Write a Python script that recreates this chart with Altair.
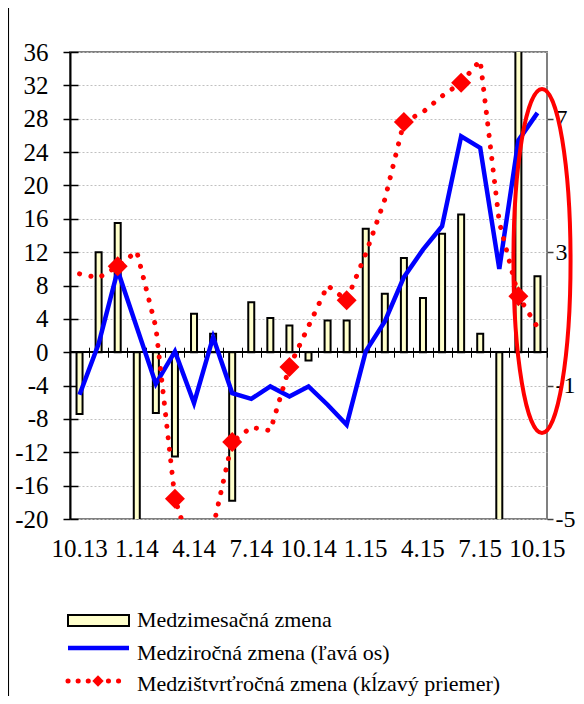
import altair as alt
import pandas as pd

months = ['10.13', '11.13', '12.13', '1.14', '2.14', '3.14', '4.14', '5.14', '6.14',
          '7.14', '8.14', '9.14', '10.14', '11.14', '12.14', '1.15', '2.15', '3.15',
          '4.15', '5.15', '6.15', '7.15', '8.15', '9.15', '10.15']
# Medzimesačná zmena (left axis)
mom = [-7.4, 12.0, 15.5, -25.0, -7.3, -12.5, 4.6, 2.2, -17.8, 6.0, 4.1, 3.2,
       -1.0, 3.8, 3.8, 14.8, 7.0, 11.3, 6.5, 14.2, 16.5, 2.2, -24.0, 40.0, 9.1]
# Medziročná zmena (left axis)
yoy = [-5.1, 1.0, 9.8, 3.0, -3.8, 0.1, -6.1, 1.8, -4.9, -5.6, -4.1, -5.3,
       -4.1, -6.3, -8.7, 0.1, 3.7, 9.0, 12.3, 15.1, 25.9, 24.5, 10.0, 25.4, 28.7]
# Medzištvrťročná zmena, kĺzavý priemer (right axis)
qoq = [2.35, 2.23, 2.58, 3.02, 0.75, -4.39, -6.2, -5.25, -2.69, -2.25, -2.35, -0.44,
       0.78, 2.0, 1.56, 2.95, 4.58, 6.9, 7.2, 7.68, 8.08, 8.75, 3.9, 1.68, 0.75]
label_months = ['10.13', '1.14', '4.14', '7.14', '10.14', '1.15', '4.15', '7.15', '10.15']
left_ticks = list(range(-20, 37, 4))
right_ticks = [-5, -1, 3, 7]
legend_labels = ['Medzimesačná zmena', 'Medziročná zmena (ľavá os)',
                 'Medzištvrťročná zmena (kĺzavý priemer)']

df = pd.DataFrame({'month': months, 'mom': mom, 'yoy': yoy, 'qoq': qoq})
df_q = df.iloc[2::3]
one = pd.DataFrame({'k': [0]})

W, H = 477, 467
PAD = {'left': 62, 'top': 44, 'right': 29, 'bottom': 177}
FONT = 'Liberation Serif'
HYPHEN = "replace(datum.label, '\u2212', '-')"
left_dom = [-20, 36]
right_dom = [-5, 9]
zero_px = H * left_dom[1] / (left_dom[1] - left_dom[0])

xscale = alt.Scale(domain=months, paddingInner=0, paddingOuter=0)
lscale = alt.Scale(domain=left_dom, nice=False, zero=False)
rscale = alt.Scale(domain=right_dom, nice=False, zero=False)

base = alt.Chart(df)
single = alt.Chart(one)

bars = base.mark_bar(size=6, fill='#FFFFCC', stroke='black', strokeWidth=2, clip=True).encode(
    x=alt.X('month:N', sort=months, scale=xscale,
            axis=alt.Axis(values=label_months, ticks=False, tickSize=0, domain=False, grid=False,
                          labelAngle=0, labelFont=FONT, labelFontSize=25, labelColor='black',
                          labelPadding=17, title=None)),
    y=alt.Y('mom:Q', scale=lscale,
            axis=alt.Axis(values=left_ticks, grid=True, gridDash=[2, 2], gridColor='#c0c0c0',
                          gridWidth=1, domainColor='black', domainWidth=2, tickColor='black',
                          tickSize=7, tickWidth=1.5, labelFont=FONT, labelFontSize=25,
                          labelColor='black', labelPadding=15, labelExpr=HYPHEN, title=None)),
)

zero = base.mark_rule(color='black', strokeWidth=1.5).encode(
    y=alt.YDatum(0, scale=lscale, axis=None)
)

blue = base.mark_line(color='#0000FF', strokeWidth=4.5, clip=True).encode(
    x=alt.X('month:N', sort=months, scale=xscale,
            axis=alt.Axis(orient='bottom', offset=-(H - zero_px), labels=False, domain=False,
                          ticks=True, tickBand='extent', tickSize=5, tickColor='black',
                          tickWidth=1, grid=False, title=None)),
    y=alt.Y('yoy:Q', scale=lscale,
            axis=alt.Axis(orient='left', offset=-8, values=left_ticks, labels=False,
                          domain=False, grid=False, ticks=True, tickSize=8, tickColor='black',
                          tickWidth=1.5, title=None)),
)

red = base.mark_line(color='#FF0000', strokeWidth=5, strokeDash=[0.1, 11.5],
                     strokeCap='round', clip=True).encode(
    x=alt.X('month:N', sort=months, scale=xscale,
            axis=alt.Axis(orient='top', offset=-zero_px, labels=False, domain=False,
                          ticks=True, tickBand='extent', tickSize=5, tickColor='black',
                          tickWidth=1, grid=False, title=None)),
    y=alt.Y('qoq:Q', scale=rscale,
            axis=alt.Axis(orient='right', values=right_ticks, domain=False, grid=False,
                          tickColor='#404040', tickSize=6, tickWidth=1.5, labelFont=FONT,
                          labelFontSize=24, labelColor='black', labelPadding=2,
                          labelExpr=HYPHEN, title=None)),
)

diamonds = alt.Chart(df_q).mark_point(shape='diamond', filled=True, color='#FF0000',
                                      size=400, opacity=1, clip=True).encode(
    x=alt.X('month:N', sort=months, scale=xscale, axis=None),
    y=alt.Y('qoq:Q', scale=rscale, axis=None),
)

# annotation ellipse around the latest values
ellipse = single.mark_point(
    shape='M0,-1A0.166,1,0,1,1,0,1A0.166,1,0,1,1,0,-1Z', filled=False,
    stroke='#FF0000', strokeWidth=4, size=344 ** 2, opacity=1
).encode(x=alt.value(472), y=alt.value(209))

# frame line on the left
frame = single.mark_rule(color='black', strokeWidth=1.5).encode(
    x=alt.value(-61.7), y=alt.value(-PAD['top']), y2=alt.value(H + PAD['bottom']))

# legend
leg_rect = single.mark_rect(fill='#FFFFCC', stroke='black', strokeWidth=2).encode(
    x=alt.value(-2), x2=alt.value(59), y=alt.value(563), y2=alt.value(574))
leg_blue = single.mark_rule(color='#0000FF', strokeWidth=4.5).encode(
    x=alt.value(-2), x2=alt.value(59), y=alt.value(596))
leg_red = single.mark_rule(color='#FF0000', strokeWidth=5, strokeDash=[0.1, 10],
                           strokeCap='round').encode(
    x=alt.value(-2), x2=alt.value(56), y=alt.value(629))
leg_diam = single.mark_point(shape='diamond', filled=True, color='#FF0000', size=130,
                             opacity=1).encode(x=alt.value(28), y=alt.value(629))
leg_texts = [
    single.mark_text(text=legend_labels[i], font=FONT, fontSize=22, align='left',
                     baseline='alphabetic', color='black').encode(
        x=alt.value(67), y=alt.value(yy))
    for i, yy in enumerate([575, 608, 639])
]

chart = alt.layer(
    bars, zero, blue, red, diamonds, ellipse, frame,
    leg_rect, leg_blue, leg_red, leg_diam, *leg_texts
).resolve_scale(y='independent').resolve_axis(x='independent', y='independent').properties(
    width=W, height=H,
    autosize=alt.AutoSizeParams(type='none'),
    padding=PAD,
    background='white',
).configure_view(stroke='#808080', strokeWidth=2)

chart.save('out.html', embed_options={'renderer': 'svg', 'actions': False})
